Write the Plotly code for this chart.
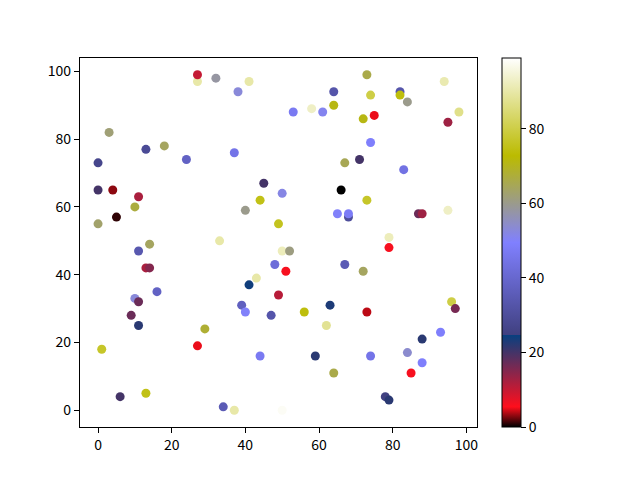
import plotly.graph_objects as go

# scatter points (x, y, colour value)
x = [0, 0, 4, 5, 0, 10, 11, 3, 13, 18, 24, 27, 27, 32, 38, 41, 37, 45, 44, 40,
     50, 49, 53, 58, 61, 64, 64, 72, 73, 74, 75, 82, 82, 84, 94, 98, 95, 74, 67, 71,
     83, 66, 73, 65, 68, 68, 87, 88, 95, 79, 79, 14, 33, 11, 13, 14, 16, 10, 11, 9,
     11, 1, 6, 13, 27, 29, 34, 37, 41, 43, 48, 50, 52, 51, 39, 40, 47, 49, 44, 50,
     56, 63, 62, 67, 72, 73, 59, 64, 74, 78, 79, 85, 84, 88, 88, 93, 96, 97]
y = [73, 65, 65, 57, 55, 60, 63, 82, 77, 78, 74, 97, 99, 98, 94, 97, 76, 67, 62, 59,
     64, 55, 88, 89, 88, 90, 94, 86, 99, 93, 87, 94, 93, 91, 97, 88, 85, 79, 73, 74,
     71, 65, 62, 58, 57, 58, 58, 58, 59, 51, 48, 49, 50, 47, 42, 42, 35, 33, 32, 28,
     25, 18, 4, 5, 19, 24, 1, 0, 37, 39, 43, 47, 47, 41, 31, 29, 28, 34, 16, 0,
     29, 31, 25, 43, 41, 29, 16, 11, 16, 4, 3, 11, 17, 14, 21, 23, 32, 30]
c = [27, 20, 3, 1, 63, 67, 12, 62, 29, 64, 38, 90, 10, 58, 53, 90, 45, 20, 75, 60,
     52, 76, 47, 93, 51, 71, 33, 71, 66, 80, 5, 33, 74, 60, 91, 87, 13, 49, 65, 20,
     44, 0, 77, 50, 30, 48, 17, 13, 93, 92, 6, 64, 90, 34, 12, 15, 38, 53, 17, 17,
     22, 77, 20, 75, 5, 68, 35, 90, 24, 90, 42, 92, 61, 6, 37, 50, 33, 11, 47, 98,
     74, 23, 88, 35, 64, 4, 22, 66, 45, 25, 22, 6, 54, 49, 22, 49, 80, 16]
ticks = [0, 20, 40, 60, 80, 100]
cbar_ticks = [0, 20, 40, 60, 80]

# matplotlib gist_stern, piecewise linear
gist_stern = [
    [0.0, "rgb(0,0,0)"],
    [0.0547, "rgb(255,14,28)"],
    [0.2499, "rgb(7,64,128)"],
    [0.25, "rgb(64,64,128)"],
    [0.5, "rgb(128,128,255)"],
    [0.735, "rgb(187,187,0)"],
    [1.0, "rgb(255,255,255)"],
]

font = dict(family="Noto Sans CJK SC, DejaVu Sans, sans-serif", size=14, color="black")

fig = go.Figure(go.Scatter(
    x=x, y=y, mode="markers",
    marker=dict(
        size=9, color=c, colorscale=gist_stern, cmin=0, cmax=99,
        line=dict(width=0),
        colorbar=dict(
            x=1.0625, xanchor="left", xref="paper",
            y=0.5, yanchor="middle", len=1, lenmode="fraction",
            thickness=18.5, xpad=0, ypad=0,
            outlinewidth=1, outlinecolor="black",
            ticks="outside", ticklen=5, tickwidth=1.1, tickcolor="black",
            tickvals=cbar_ticks, tickfont=font,
        ),
    ),
    showlegend=False,
))

axis = dict(showgrid=False, zeroline=False, showline=True, mirror=True,
            linecolor="black", linewidth=1.1, ticks="outside", ticklen=5,
            tickwidth=1.1, tickcolor="black", tickvals=ticks, tickfont=font)

# page body has an 8px margin, so the margins are shifted to compensate
fig.update_layout(
    width=640, height=480,
    margin=dict(l=72, r=171.2, t=49.6, b=60.8),
    plot_bgcolor="white", paper_bgcolor="white",
    font=font,
    xaxis=dict(axis, range=[-4.9, 102.9]),
    yaxis=dict(axis, range=[-4.95, 103.95]),
)

fig.write_html("out.html")
